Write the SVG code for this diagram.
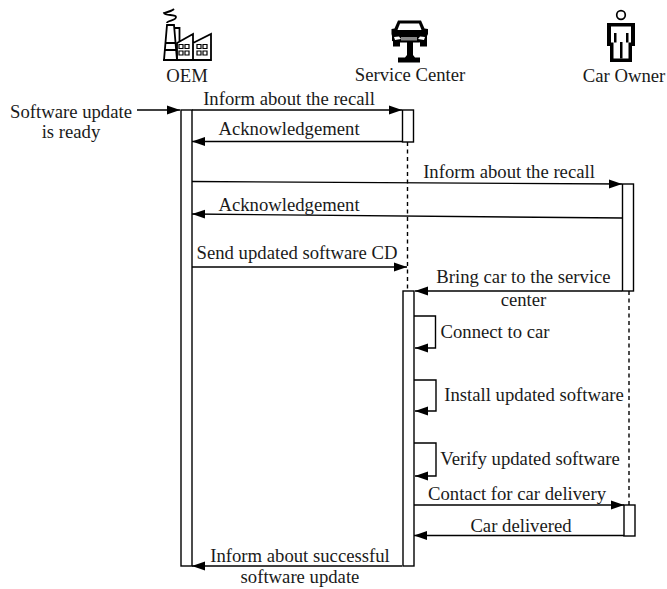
<svg xmlns="http://www.w3.org/2000/svg" width="667" height="589" viewBox="0 0 667 589">
<style>
text{font-family:"Liberation Serif","Times New Roman",serif;font-size:18.7px;fill:#1a1a1a;text-anchor:middle}
.l{fill:none;stroke:#000;stroke-width:1.4}
.d{fill:none;stroke:#000;stroke-width:1.4;stroke-dasharray:4 3.5}
.a{fill:#fff;stroke:#000;stroke-width:1.4}
.i{fill:none;stroke:#000;stroke-width:1.8}
.w{fill:none;stroke:#000;stroke-width:1.2}
.k{fill:#000}
</style>
<defs>
<marker id="ah" markerUnits="userSpaceOnUse" markerWidth="14" markerHeight="10" refX="13" refY="5" orient="auto"><path d="M0,0.5L13,5L0,9.500Z" fill="#000"/></marker>
</defs>
<g id="connectors">
<path class="d" d="M407.500,142V291"/>
<path class="d" d="M629,291V505"/>
<path class="l" d="M137,110H180" marker-end="url(#ah)"/>
<path class="l" d="M192,110H402" marker-end="url(#ah)"/>
<path class="l" d="M402,141.500H192" marker-end="url(#ah)"/>
<path class="l" d="M192,181.500L622,184" marker-end="url(#ah)"/>
<path class="l" d="M622,218L192,214" marker-end="url(#ah)"/>
<path class="l" d="M192,267H407" marker-end="url(#ah)"/>
<path class="l" d="M622,291H415" marker-end="url(#ah)"/>
<path class="l" d="M414,316H435.500V348H415" marker-end="url(#ah)"/>
<path class="l" d="M414,380H436V411H415" marker-end="url(#ah)"/>
<path class="l" d="M414,443H436V476H415" marker-end="url(#ah)"/>
<path class="l" d="M414,505H624" marker-end="url(#ah)"/>
<path class="l" d="M624,535.500H414" marker-end="url(#ah)"/>
<path class="l" d="M402,566H192" marker-end="url(#ah)"/>
</g>
<g id="activations">
<rect class="a" x="181" y="110" width="11" height="456"/>
<rect class="a" x="402.500" y="110" width="11" height="32"/>
<rect class="a" x="622.500" y="184" width="11" height="107"/>
<rect class="a" x="403" y="291" width="11" height="275"/>
<rect class="a" x="624" y="505" width="11" height="31"/>
</g>
<g id="oem">
<path class="i" d="M164,60L167,25H174L177,60M165,43H176M164.500,50H176.500"/>
<path class="i" d="M175,28H179.500V42M177,43L193,34V60H177ZM193,43L211,34V60H193Z"/>
<path class="i" d="M163,60H211"/>
<path class="w" d="M179,44.500h4v4h-4zM185,44.500h4v4h-4zM179,51h4v4h-4zM185,51h4v4h-4zM197,44.500h4v4h-4zM203,44.500h4v4h-4zM197,51h4v4h-4zM203,51h4v4h-4z"/>
<path class="i" d="M167,23C167,20 176,21 176,17C176,14 165,16 164,13C168,12 172,11 174,9"/>
<text x="187" y="82">OEM</text>
</g>
<g id="service-center">
<path class="k" d="M398,20.500H421L424.500,28.500L428,29V34L427,36V41L419,42.500H400L392,41V36L391.500,34V29L394.500,28.500Z"/>
<path d="M400,23.500H419L421.500,30H397.500Z" fill="#fff"/>
<path d="M394,37L399,36.500L401,39L395,40Z" fill="#fff"/>
<path d="M425,37L420,36.500L418,39L424,40Z" fill="#fff"/>
<path d="M401,37H417V40.500H401Z" fill="#888"/>
<path class="k" d="M393,41H400V46.500H393ZM420,41H427V46.500H420ZM407,42H413V55L415,57.500H420V62.500H398V57.500H405L407,55Z"/>
<text x="410" y="81">Service Center</text>
</g>
<g id="car-owner">
<circle cx="621" cy="15" r="4.300" class="l" style="stroke-width:1.700"/>
<path class="k" d="M607,23H635V46H632V62H610V46H607Z"/>
<path d="M611,26.500H631V42.500H628.500V58.500H613.500V42.500H611Z" fill="#fff"/>
<path d="M614,33H616.500V42.500H614ZM626,33H628.500V42.500H626ZM620,42H622.500V58.500H620Z" fill="#000"/>
<text x="624" y="82">Car Owner</text>
</g>
<g id="labels">
<text x="71" y="118">Software update</text>
<text x="71" y="138">is ready</text>
<text x="289" y="105">Inform about the recall</text>
<text x="289" y="135">Acknowledgement</text>
<text x="509" y="178">Inform about the recall</text>
<text x="289" y="211">Acknowledgement</text>
<text x="297" y="259">Send updated software CD</text>
<text x="523.500" y="283">Bring car to the service</text>
<text x="523.500" y="305.500">center</text>
<text x="495" y="338">Connect to car</text>
<text x="534" y="401">Install updated software</text>
<text x="530" y="465">Verify updated software</text>
<text x="517" y="500">Contact for car delivery</text>
<text x="521" y="531.500">Car delivered</text>
<text x="300" y="561.500">Inform about successful</text>
<text x="300" y="583">software update</text>
</g>
</svg>
